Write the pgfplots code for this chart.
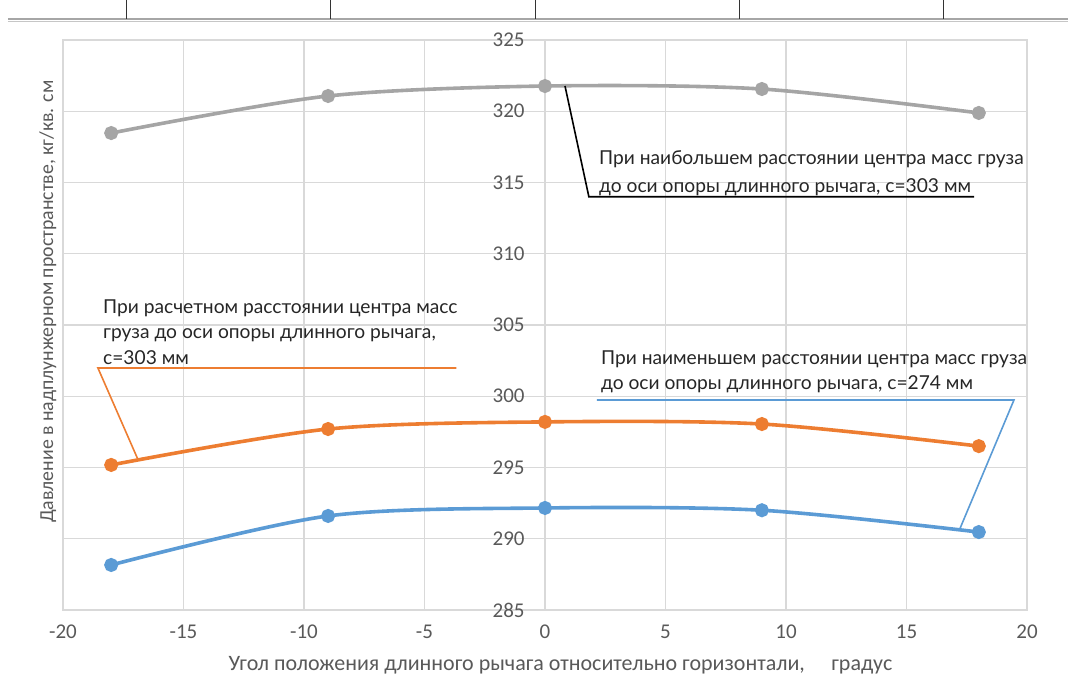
\documentclass[border=0pt]{standalone}
\usepackage{pgfplots}
\pgfplotsset{compat=1.18}
\usepackage{fontspec}
\setmainfont{Carlito}
\newfontfamily\annfont{Lato}
\definecolor{cgray}{HTML}{A5A5A5}
\definecolor{corange}{HTML}{ED7D31}
\definecolor{cblue}{HTML}{5B9BD5}
\definecolor{gridc}{HTML}{D9D9D9}
\definecolor{labc}{HTML}{595959}
\definecolor{txtc}{HTML}{262626}
\begin{document}
\begin{tikzpicture}
\begin{axis}[
  at={(0,0)}, anchor=south west,
  scale only axis, width=482pt, height=285pt,
  xmin=-20, xmax=20, ymin=285, ymax=325,
  xtick={-20,-15,...,20}, ytick={285,290,...,325},
  grid=major, grid style={gridc, line width=0.6pt},
  axis line style={gridc, line width=0.6pt},
  major tick length=0pt,
  tick label style={font=\fontsize{10.5}{12}\selectfont, text=labc},
  /pgf/number format/assume math mode=true,
  xticklabel style={yshift=-4pt},
  yticklabel style={anchor=east, xshift=232.5pt, inner sep=1.5pt},
  clip=false,
]
\addplot[cgray, line width=1.8pt, smooth, tension=0.5, mark=*, mark size=2.6pt, mark options={solid}] coordinates {(-18,318.47) (-9,321.07) (0,321.77) (9,321.56) (18,319.88)};
\addplot[corange, line width=1.8pt, smooth, tension=0.5, mark=*, mark size=2.6pt] coordinates {(-18,295.18) (-9,297.7) (0,298.2) (9,298.05) (18,296.5)};
\addplot[cblue, line width=1.8pt, smooth, tension=0.5, mark=*, mark size=2.6pt] coordinates {(-18,288.16) (-9,291.6) (0,292.16) (9,292.0) (18,290.47)};
% callouts
\draw[black, line width=0.8pt] (axis cs:0.83,321.77) -- (axis cs:1.82,314.0) -- (axis cs:17.81,314.0);
\draw[corange, line width=0.8pt] (axis cs:-3.68,301.98) -- (axis cs:-18.55,301.98) -- (axis cs:-16.9,295.6);
\draw[cblue, line width=0.8pt] (axis cs:2.15,299.74) -- (axis cs:19.46,299.74) -- (axis cs:17.19,290.6);
\begin{scope}[every node/.style={inner sep=0pt, anchor=base west, text=txtc, font=\annfont\fontsize{9.6}{12}\selectfont}]
\node at (axis cs:2.23,316.23) {При наибольшем расстоянии центра масс груза};
\node at (axis cs:2.23,314.30) {до оси опоры длинного рычага, с=303 мм};
\node at (axis cs:-18.35,305.84) {При расчетном расстоянии центра масс};
\node at (axis cs:-18.35,304.05) {груза до оси опоры длинного рычага,};
\node at (axis cs:-18.35,302.26) {с=303 мм};
\node at (axis cs:2.31,302.26) {При наименьшем расстоянии центра масс груза};
\node at (axis cs:2.31,300.47) {до оси опоры длинного рычага, с=274 мм};
\end{scope}
\node[rotate=90, text=labc, font=\fontsize{9.9}{12}\selectfont, anchor=center] at ([xshift=-7.5pt]axis description cs:0,0.541) {Давление в надплунжерном пространстве, кг/кв. см};
\node[text=labc, font=\fontsize{11}{13}\selectfont, anchor=center] at ([yshift=-27.5pt]axis description cs:0.516,0) {Угол положения длинного рычага относительно горизонтали,\hspace{1.2em}градус};
\end{axis}
% top strip fragment of a table
\draw[gray!70, line width=0.9pt] (-27.5pt,295.5pt) -- (502.5pt,295.5pt);
\draw[gray!45, line width=0.5pt] (-27.5pt,294.3pt) -- (502.5pt,294.3pt);
\foreach \xx in {126,330,535,739,943} {\draw[black!80, line width=0.5pt] ({(\xx-63)*0.5pt},295.5pt) -- ({(\xx-63)*0.5pt},305pt);}
\pgfresetboundingbox
\path[use as bounding box] (-31.5pt,-34.5pt) rectangle (502.5pt,305pt);
\end{tikzpicture}
\end{document}
